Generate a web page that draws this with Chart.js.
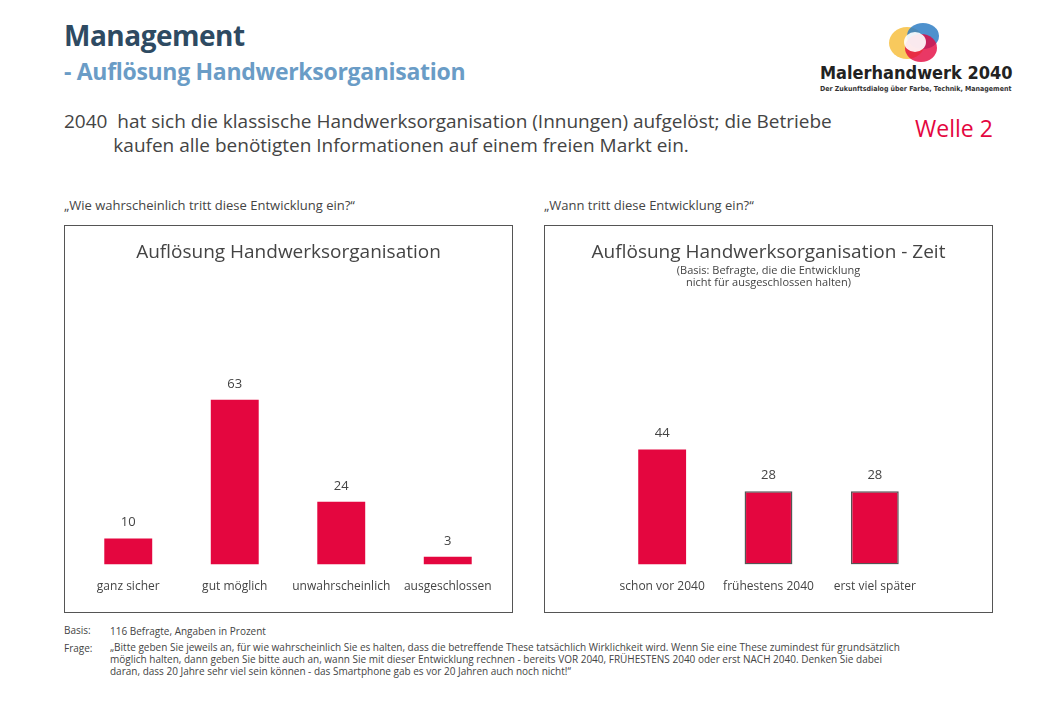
<!DOCTYPE html>
<html><head><meta charset="utf-8">
<script src="https://cdn.jsdelivr.net/npm/chart.js@4"></script>
<style>
body{margin:0;width:1040px;height:720px;background:#fff;font-family:"Open Sans",sans-serif;color:#444;position:relative;overflow:hidden}
.a{position:absolute;white-space:nowrap}
.box{position:absolute;border:1px solid #555;width:447px;height:386px}
.box canvas{position:absolute;left:0;top:0}
</style></head><body>
<div class="a" style="left:64px;top:16px;font-size:28px;font-weight:bold;color:#2e4a62;letter-spacing:-0.5px">Management</div>
<div class="a" style="left:64px;top:55px;font-size:23px;font-weight:bold;color:#6a9cc6;letter-spacing:-0.3px">- Auflösung Handwerksorganisation</div>
<div class="a" style="left:820px;top:62px;font-size:18px;font-weight:bold;color:#222;font-family:'DejaVu Sans Condensed','DejaVu Sans'">Malerhandwerk 2040</div>
<div class="a" style="left:820px;top:85px;font-size:7px;font-weight:bold;color:#333;font-family:'DejaVu Sans Condensed'">Der Zukunftsdialog über Farbe, Technik, Management</div>
<svg class="a" style="left:885px;top:18px" width="60" height="46">
<ellipse cx="22" cy="25" rx="18" ry="16" fill="#f7c34b" opacity="0.9"/>
<ellipse cx="38" cy="18" rx="16" ry="13" fill="#2f7ec4" opacity="0.85"/>
<ellipse cx="36" cy="30" rx="16" ry="14" fill="#e4063f" opacity="0.8"/>
<ellipse cx="30" cy="24" rx="11" ry="10" fill="#fff" opacity="0.9"/>
</svg>
<div class="a" style="left:64px;top:109px;font-size:19px;color:#444;line-height:24px">2040&nbsp; hat sich die klassische Handwerksorganisation (Innungen) aufgelöst; die Betriebe<br>&nbsp;&nbsp;&nbsp;&nbsp;&nbsp;&nbsp;&nbsp;&nbsp;&nbsp;&nbsp;kaufen alle benötigten Informationen auf einem freien Markt ein.</div>
<div class="a" style="left:915px;top:112px;font-size:23px;color:#e4063f">Welle 2</div>
<div class="a" style="left:64px;top:196px;font-size:13px;color:#444">„Wie wahrscheinlich tritt diese Entwicklung ein?“</div>
<div class="a" style="left:544px;top:196px;font-size:13px;color:#444">„Wann tritt diese Entwicklung ein?“</div>
<div class="box" style="left:64px;top:225px"><canvas id="c1" width="449" height="388"></canvas>
<div class="a" style="left:0;width:447px;text-align:center;top:12px;font-size:19px">Auflösung Handwerksorganisation</div></div>
<div class="box" style="left:544px;top:225px"><canvas id="c2" width="449" height="388"></canvas>
<div class="a" style="left:0;width:447px;text-align:center;top:12px;font-size:19px">Auflösung Handwerksorganisation - Zeit</div>
<div class="a" style="left:0;width:447px;text-align:center;top:38px;font-size:11px;line-height:12px">(Basis: Befragte, die die Entwicklung<br>nicht für ausgeschlossen halten)</div></div>
<div class="a" style="left:64px;top:624px;font-size:10px;line-height:13px">Basis:</div>
<div class="a" style="left:110px;top:624px;font-size:10px">116 Befragte, Angaben in Prozent</div>
<div class="a" style="left:64px;top:641px;font-size:10px">Frage:</div>
<div class="a" style="left:110px;top:641px;font-size:10px;line-height:12px;white-space:normal;width:800px">„Bitte geben Sie jeweils an, für wie wahrscheinlich Sie es halten, dass die betreffende These tatsächlich Wirklichkeit wird. Wenn Sie eine These zumindest für grundsätzlich möglich halten, dann geben Sie bitte auch an, wann Sie mit dieser Entwicklung rechnen - bereits VOR 2040, FRÜHESTENS 2040 oder erst NACH 2040. Denken Sie dabei daran, dass 20 Jahre sehr viel sein können - das Smartphone gab es vor 20 Jahren auch noch nicht!“</div>
<script>
var kategorienWahrscheinlich = ["ganz sicher", "gut möglich", "unwahrscheinlich", "ausgeschlossen"];
var werteWahrscheinlich = [10, 63, 24, 3];
var kategorienZeit = ["schon vor 2040", "frühestens 2040", "erst viel später"];
var werteZeit = [44, 28, 28];
var randZeit = [0, 1.5, 1.5];

var wertLabels = {
    id: "wertLabels",
    afterDatasetsDraw: function (chart) {
        var ctx = chart.ctx;
        ctx.save();
        ctx.font = "13px 'Open Sans'";
        ctx.fillStyle = "#444";
        ctx.textAlign = "center";
        chart.getDatasetMeta(0).data.forEach(function (bar, i) {
            ctx.fillText(chart.data.datasets[0].data[i], bar.x, bar.y - 12);
        });
        ctx.restore();
    }
};

function optionen(links, rechts) {
    return {
        responsive: false,
        animation: false,
        layout: { padding: { top: 77, bottom: 13, left: links, right: rechts } },
        plugins: { legend: { display: false }, tooltip: { enabled: false } },
        scales: {
            y: { display: false, min: 0, max: 100 },
            x: {
                grid: { display: false }, border: { display: false },
                ticks: { color: "#444", font: { size: 12, family: "Open Sans" }, padding: 7 }
            }
        }
    };
}

new Chart(document.querySelector("#c1").getContext("2d"), {
    type: "bar",
    data: {
        labels: kategorienWahrscheinlich,
        datasets: [{ data: werteWahrscheinlich, backgroundColor: "#e4063f", barPercentage: 0.45, categoryPercentage: 1 }]
    },
    options: optionen(10, 13),
    plugins: [wertLabels]
});

new Chart(document.querySelector("#c2").getContext("2d"), {
    type: "bar",
    data: {
        labels: kategorienZeit,
        datasets: [{ data: werteZeit, backgroundColor: "#e4063f", borderColor: "#555", borderWidth: randZeit, borderSkipped: false, barPercentage: 0.45, categoryPercentage: 1 }]
    },
    options: optionen(64, 66),
    plugins: [wertLabels]
});
</script>
</body></html>
